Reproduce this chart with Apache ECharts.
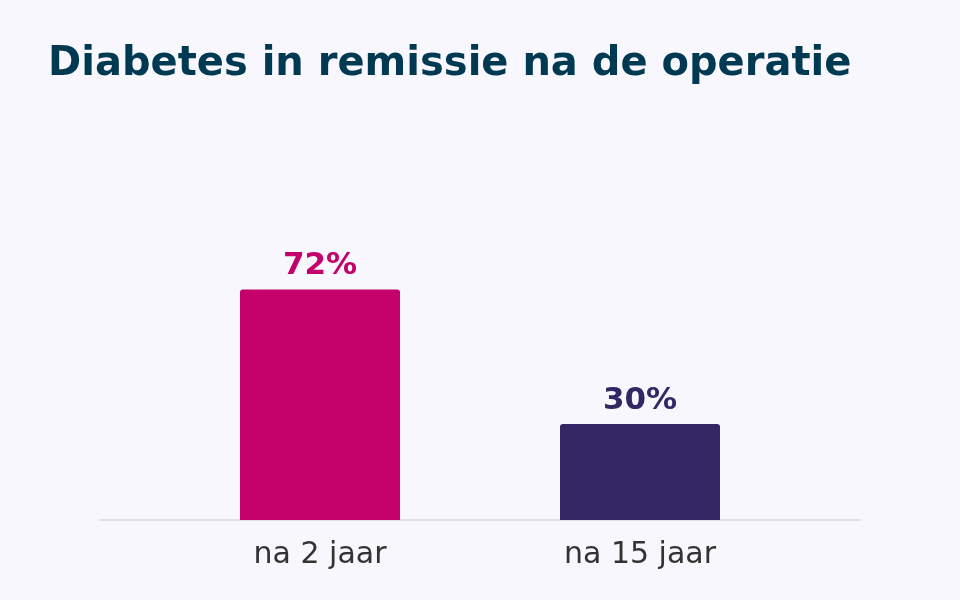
<!DOCTYPE html>
<html>
<head>
<meta charset="utf-8">
<script src="https://cdn.jsdelivr.net/npm/echarts@6/dist/echarts.min.js"></script>
<style>
  html, body { margin: 0; padding: 0; background: #f8f7fd; }
  #chart { width: 960px; height: 600px; }
</style>
</head>
<body>
<div id="chart"></div>
<script>
var categories = ['na 2 jaar', 'na 15 jaar'];
var values = [72, 30];
var colors = ['#c4006a', '#332766'];

var chart = echarts.init(document.getElementById('chart'));

var option = {
  backgroundColor: '#f8f7fd',
  title: {
    text: 'Diabetes in remissie na de operatie',
    left: 43,
    top: 40,
    textStyle: {
      fontFamily: 'DejaVu Sans',
      fontWeight: 'bold',
      fontSize: 40,
      color: '#003a52'
    }
  },
  // grid 0 only carries the long baseline, grid 1 holds the bars
  grid: [
    { left: 100, right: 100, top: 200, bottom: 80 },
    { left: 160, right: 160, top: 200, bottom: 80 }
  ],
  xAxis: [
    {
      type: 'value',
      gridIndex: 0,
      axisLine: { show: true, lineStyle: { color: '#e2e0ea', width: 2 } },
      axisTick: { show: false },
      axisLabel: { show: false },
      splitLine: { show: false }
    },
    {
      type: 'category',
      gridIndex: 1,
      data: categories,
      axisLine: { show: false },
      axisTick: { show: false },
      axisLabel: {
        fontFamily: 'DejaVu Sans',
        fontSize: 30,
        color: '#333333',
        margin: 20
      }
    }
  ],
  yAxis: [
    { type: 'value', gridIndex: 0, show: false, min: 0, max: 100 },
    { type: 'value', gridIndex: 1, show: false, min: 0, max: 100, splitLine: { show: false } }
  ],
  series: [{
    type: 'bar',
    xAxisIndex: 1,
    yAxisIndex: 1,
    barWidth: 160,
    data: values.map(function (v, i) {
      return {
        value: v,
        itemStyle: { color: colors[i], borderRadius: [3, 3, 0, 0] },
        label: { color: colors[i] }
      };
    }),
    label: {
      show: true,
      position: 'top',
      distance: 8,
      formatter: '{c}%',
      fontFamily: 'DejaVu Sans',
      fontWeight: 'bold',
      fontSize: 31
    }
  }]
};

chart.setOption(option);
</script>
</body>
</html>
